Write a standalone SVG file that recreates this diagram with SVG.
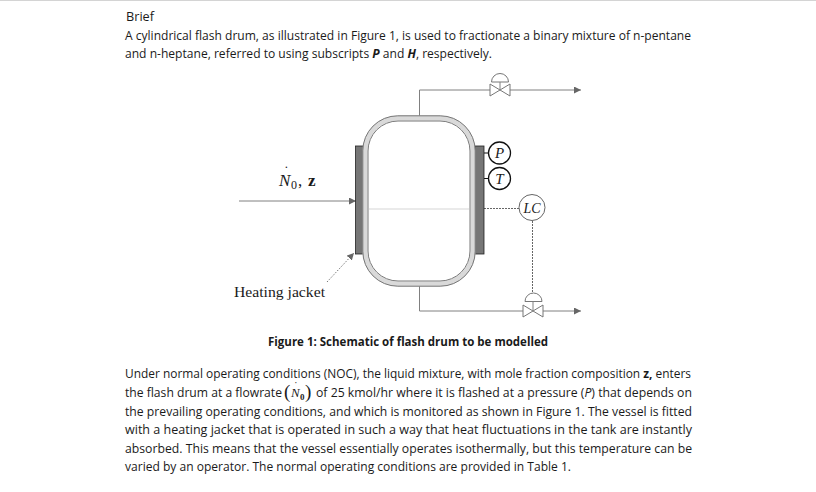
<svg xmlns="http://www.w3.org/2000/svg" width="816" height="492" viewBox="0 0 816 492">
<style>
.b{font-family:"Open Sans","Noto Sans","Liberation Sans",sans-serif;font-size:12px;fill:#1a1a1a}
.s{font-family:"Liberation Serif",serif;fill:#1a1a1a}
.i{font-style:italic}
.pipe{fill:none;stroke:#808080;stroke-width:1}
.dash{fill:none;stroke:#666;stroke-width:1;stroke-dasharray:2 1}
.valve{fill:#fff;stroke:#777;stroke-width:1}
.inst{fill:#fff;stroke:#111;stroke-width:1.3}
.jk{fill:#767676;stroke:#222;stroke-width:.8}
.ah{fill:#666}
</style>
<defs>
<marker id="arr" markerWidth="8" markerHeight="8" refX="7" refY="3.5" orient="auto" markerUnits="userSpaceOnUse"><path d="M0 0L7 3.5L0 7z" class="ah"/></marker>
</defs>
<rect width="816" height="492" fill="#fff"/>
<rect width="816" height="1" fill="#d4d4d4"/>
<g id="text-top">
<text class="b" x="126" y="21" textLength="28" lengthAdjust="spacingAndGlyphs">Brief</text>
<text class="b" x="125" y="40" textLength="566" lengthAdjust="spacingAndGlyphs">A cylindrical flash drum, as illustrated in Figure 1, is used to fractionate a binary mixture of n-pentane</text>
<text class="b" x="125" y="58" textLength="367" lengthAdjust="spacingAndGlyphs">and n-heptane, referred to using subscripts <tspan font-weight="700" font-style="italic">P</tspan> and <tspan font-weight="700" font-style="italic">H</tspan>, respectively.</text>
</g>
<g id="connectors">
<path class="pipe" d="M419.5 116V90H490"/>
<path class="pipe" d="M510 90H581" marker-end="url(#arr)"/>
<path class="pipe" d="M419.5 286V311H523"/>
<path class="pipe" d="M543 311H581" marker-end="url(#arr)"/>
<path class="pipe" d="M239 201H356" marker-end="url(#arr)"/>
<path class="dash" d="M484 208.500H519"/>
<path class="dash" d="M532.500 221V294"/>
<path d="M327 282L354 253" fill="none" stroke="#777" stroke-width="1" stroke-dasharray="1.500 1.500" marker-end="url(#arr)"/>
<path d="M476 153H488M476 178.500H488" stroke="#111" stroke-width="1.200"/>
</g>
<g id="jacket-left"><rect class="jk" x="355.500" y="146" width="8" height="108"/></g>
<g id="jacket-right"><rect class="jk" x="475" y="146" width="9" height="108"/></g>
<g id="drum">
<rect x="365" y="118" width="108" height="166" rx="33" ry="33" fill="#fff" stroke="#d9d9d9" stroke-width="5"/>
<rect x="362.800" y="115.800" width="112.400" height="170.400" rx="35" ry="35" fill="none" stroke="#777" stroke-width="1"/>
<rect x="368" y="121" width="102" height="160" rx="30" ry="30" fill="none" stroke="#777" stroke-width="1"/>
<path d="M369 209H469" stroke="#d6d6d6" stroke-width="1.200"/>
</g>
<g id="valve-top">
<path class="valve" d="M490 84V96L510 84V96Z"/>
<path class="valve" d="M491.500 82a8.500 8.500 0 0 1 17 0Z"/>
<path class="pipe" d="M500 82V90"/>
</g>
<g id="valve-bottom">
<path class="valve" d="M523 305V317L543 305V317Z"/>
<path class="valve" d="M525 301.500a8.500 8.500 0 0 1 17 0Z"/>
<path class="pipe" d="M533 301.500V311"/>
</g>
<g id="inst-p"><circle class="inst" cx="499.500" cy="153" r="11"/><text class="s i" x="499.500" y="158" font-size="15" text-anchor="middle">P</text></g>
<g id="inst-t"><circle class="inst" cx="499.500" cy="178.500" r="11"/><text class="s i" x="499.500" y="183.500" font-size="15" text-anchor="middle">T</text></g>
<g id="inst-lc"><circle cx="532" cy="207.500" r="13" fill="#fff" stroke="#666" stroke-width="1"/><text class="s i" x="532" y="212.500" font-size="14" text-anchor="middle">LC</text></g>
<g id="feed-label">
<text class="s i" x="279" y="186" font-size="17">N</text>
<text class="s" x="284" y="176" font-size="14">˙</text>
<text class="s" x="291" y="189" font-size="12">0</text>
<text class="s" x="298" y="186" font-size="17">,</text>
<text class="s" x="308" y="186" font-size="17" font-weight="700">z</text>
</g>
<g id="jacket-label"><text class="s" x="234" y="297" font-size="14" textLength="91" lengthAdjust="spacingAndGlyphs">Heating jacket</text></g>
<g id="caption"><text class="b" x="268" y="346" font-weight="700" textLength="280" lengthAdjust="spacingAndGlyphs">Figure 1: Schematic of flash drum to be modelled</text></g>
<g id="text-bottom">
<text class="b" x="125" y="378" textLength="566" lengthAdjust="spacingAndGlyphs">Under normal operating conditions (NOC), the liquid mixture, with mole fraction composition <tspan font-weight="700">z,</tspan> enters</text>
<text class="b" x="125" y="397" textLength="157" lengthAdjust="spacingAndGlyphs">the flash drum at a flowrate</text>
<text class="s" x="284" y="398" font-size="19">(</text>
<text class="s i" x="291" y="397" font-size="13">N</text>
<text class="s" x="294" y="389" font-size="11">˙</text>
<text class="s" x="300" y="400" font-size="9" font-weight="700">0</text>
<text class="s" x="305" y="398" font-size="19">)</text>
<text class="b" x="316" y="397" textLength="376" lengthAdjust="spacingAndGlyphs">of 25 kmol/hr where it is flashed at a pressure (<tspan font-style="italic">P</tspan>) that depends on</text>
<text class="b" x="125" y="416" textLength="567" lengthAdjust="spacingAndGlyphs">the prevailing operating conditions, and which is monitored as shown in Figure 1. The vessel is fitted</text>
<text class="b" x="125" y="434" textLength="567" lengthAdjust="spacingAndGlyphs">with a heating jacket that is operated in such a way that heat fluctuations in the tank are instantly</text>
<text class="b" x="125" y="453" textLength="567" lengthAdjust="spacingAndGlyphs">absorbed. This means that the vessel essentially operates isothermally, but this temperature can be</text>
<text class="b" x="125" y="471" textLength="446" lengthAdjust="spacingAndGlyphs">varied by an operator. The normal operating conditions are provided in Table 1.</text>
</g>
</svg>
